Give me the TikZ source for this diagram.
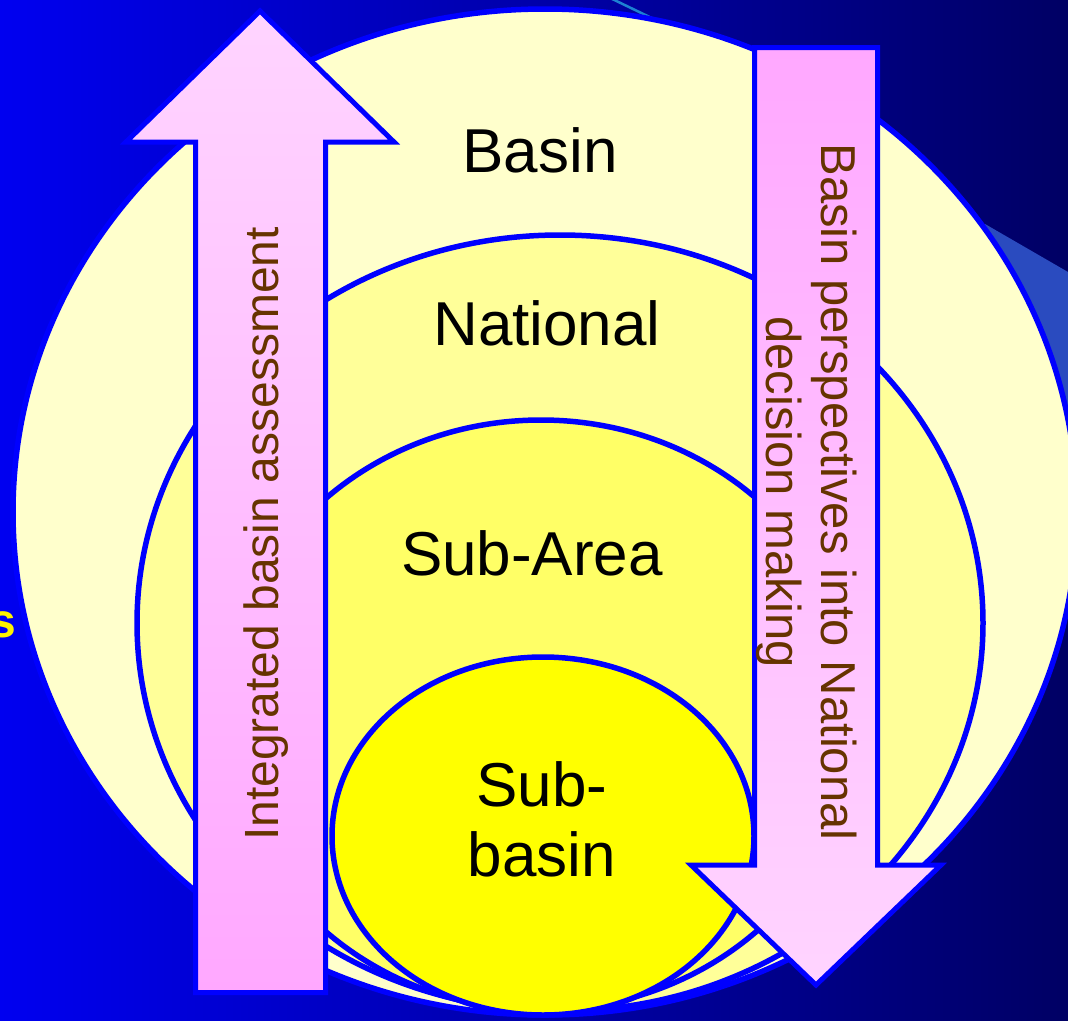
\documentclass[tikz,border=0pt]{standalone}
\usepackage{fontspec}
\setmainfont{Liberation Sans}
\definecolor{bgleft}{HTML}{0000F0}
\definecolor{bgright}{HTML}{000064}
\definecolor{beamblue}{HTML}{2A4BBF}
\definecolor{edgeblue}{HTML}{0000FF}
\definecolor{basinfill}{HTML}{FFFFCC}
\definecolor{natfill}{HTML}{FFFF99}
\definecolor{subareafill}{HTML}{FFFF66}
\definecolor{subbasinfill}{HTML}{FFFF00}
\definecolor{pinkdeep}{HTML}{FFA8FF}
\definecolor{pinklight}{HTML}{FFD4FF}
\definecolor{txtbrown}{HTML}{663300}
\begin{document}
\begin{tikzpicture}[x=1pt,y=-1pt,
  ring/.style={draw=edgeblue, line width=5.5pt},
  blockarrow/.style={draw=edgeblue, line width=5pt, miter limit=10},
  lvl/.style={font=\fontsize{62}{70}\selectfont, text=black, inner sep=0pt},
  arrowtxt/.style={font=\fontsize{48}{55}\selectfont, text=txtbrown, inner sep=0pt}]
\useasboundingbox (0,0) rectangle (1068,1020);
% background
\fill[left color=bgleft, right color=bgright] (0,0) rectangle (1068,1020);
\fill[beamblue] (985,224) -- (1068,272) -- (1068,520) -- (985,520) -- cycle;
\draw[beamblue!70!cyan, line width=2.5pt] (606,-4) -- (660,22);
% nested areas
\draw[ring, fill=basinfill] (545,512) ellipse [x radius=532pt, y radius=503pt];
\draw[ring, fill=natfill] (560,623) ellipse [x radius=423pt, y radius=388pt];
\draw[ring, fill=subareafill] (541,715) ellipse [x radius=317pt, y radius=295pt];
\draw[ring, fill=subbasinfill] (543,836) ellipse [x radius=211pt, y radius=179pt];
% block arrows
\draw[blockarrow, bottom color=pinkdeep, top color=pinklight]
  (195.5,992.5) -- (195.5,142) -- (126,142) -- (260,11) -- (394,142)
  -- (325.5,142) -- (325.5,992.5) -- cycle;
\draw[blockarrow, top color=pinkdeep, bottom color=pinklight]
  (754.5,47.5) -- (877.5,47.5) -- (877.5,865) -- (941,865) -- (816,985)
  -- (691,865) -- (754.5,865) -- cycle;
% labels
\node[lvl, anchor=base] (basinlbl) at (540,172) {Basin};
\node[lvl, anchor=base] (natlbl) at (547,345) {National};
\node[lvl, anchor=base] (subarealbl) at (532,575) {Sub-Area};
\node[lvl, align=center] (subbasinlbl) at (542,819.5) {Sub-\\basin};
\node[arrowtxt, rotate=90, anchor=base] (uptxt) at (278,534) {Integrated basin assessment};
\node[arrowtxt, font=\fontsize{49}{55}\selectfont, rotate=-90, align=center] (downtxt) at (807,492) {Basin perspectives into National\\decision making};
\node[font=\bfseries\fontsize{48}{55}\selectfont, text=yellow, anchor=base east, inner sep=0pt] (stxt) at (16,637) {s};
\end{tikzpicture}
\end{document}
